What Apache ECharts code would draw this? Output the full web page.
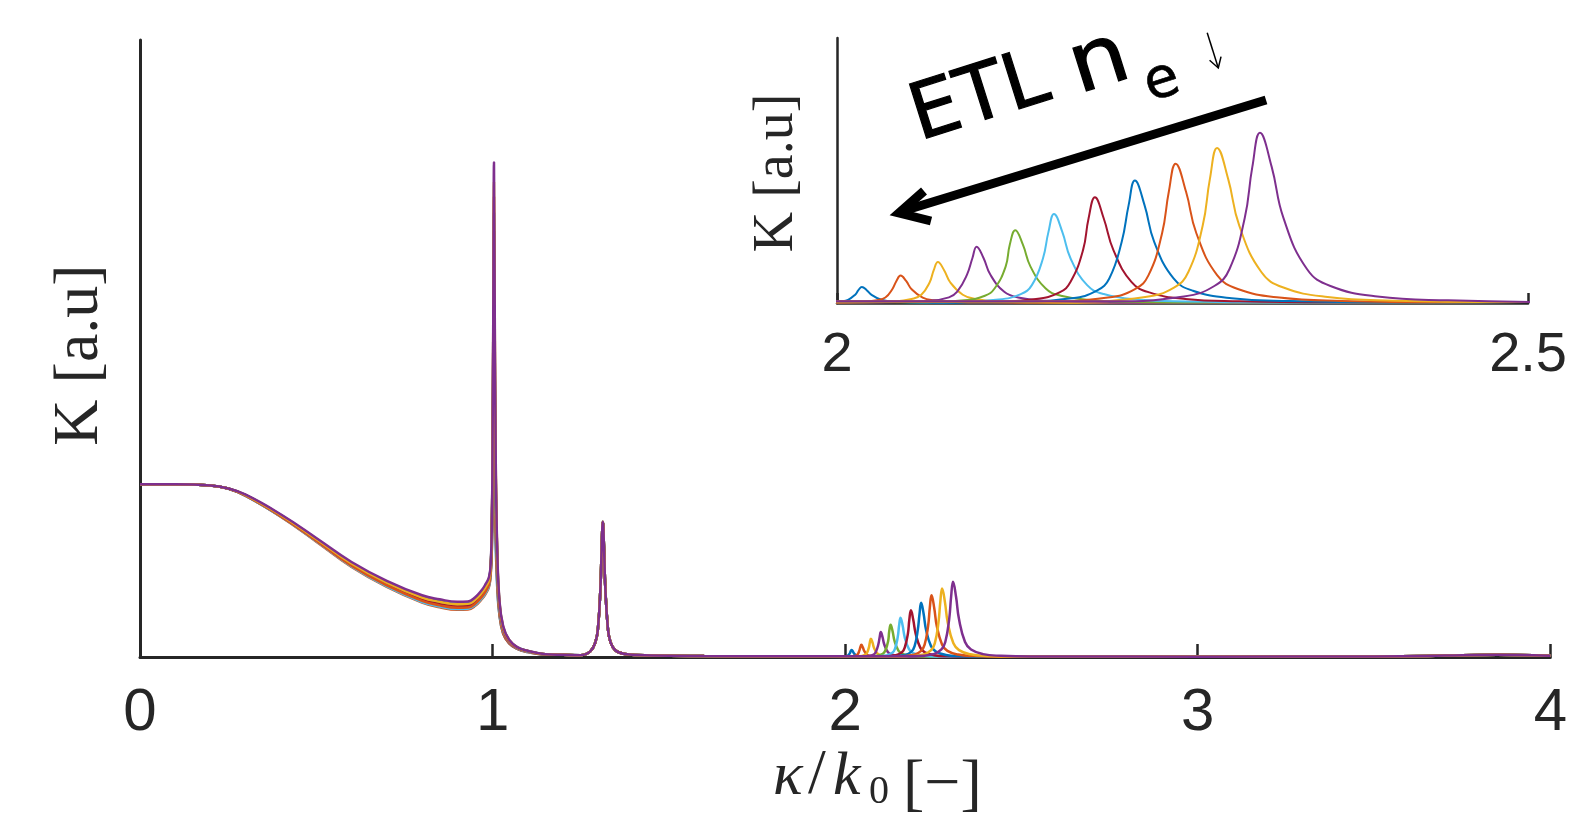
<!DOCTYPE html>
<html>
<head>
<meta charset="utf-8">
<title>K spectrum</title>
<script src="https://cdn.jsdelivr.net/npm/echarts@6/dist/echarts.min.js"></script>
<style>
  html, body { margin: 0; padding: 0; background: #fff; }
  #chart { width: 1570px; height: 818px; }
</style>
</head>
<body>
<div id="chart"></div>
<script>
// matlab default line colours, 11 runs cycle through them
const lineColors = ['#0072BD', '#D95319', '#EDB120', '#7E2F8E', '#77AC30', '#4DBEEE', '#A2142F',
                    '#0072BD', '#D95319', '#EDB120', '#7E2F8E'];

// flat start, same for every run
const plateauX = [0, 0.1, 0.2, 0.25];
const plateauK = [2.8, 2.8, 2.78, 2.73];

// decaying part before kappa = 1, runs spread slightly
const bandX = [0.3, 0.4, 0.5, 0.6, 0.7, 0.8, 0.85, 0.9, 0.93, 0.95, 0.97, 0.98];
const bandK = [
  [2.613, 2.276, 1.879, 1.472, 1.150, 0.898, 0.825, 0.785, 0.790, 0.846, 0.962, 1.044],
  [2.610, 2.270, 1.870, 1.460, 1.135, 0.880, 0.805, 0.765, 0.770, 0.825, 0.940, 1.020],
  [2.619, 2.288, 1.897, 1.496, 1.180, 0.934, 0.863, 0.823, 0.828, 0.888, 1.007, 1.092],
  [2.616, 2.282, 1.888, 1.484, 1.165, 0.916, 0.844, 0.804, 0.809, 0.867, 0.985, 1.068],
  [2.622, 2.294, 1.906, 1.508, 1.195, 0.952, 0.883, 0.843, 0.848, 0.909, 1.030, 1.116],
  [2.612, 2.274, 1.876, 1.468, 1.145, 0.892, 0.818, 0.778, 0.783, 0.839, 0.955, 1.036],
  [2.618, 2.286, 1.894, 1.492, 1.175, 0.928, 0.857, 0.817, 0.822, 0.881, 1.000, 1.084],
  [2.625, 2.300, 1.915, 1.520, 1.210, 0.970, 0.902, 0.862, 0.867, 0.930, 1.052, 1.140],
  [2.615, 2.280, 1.885, 1.480, 1.160, 0.910, 0.837, 0.797, 0.802, 0.860, 0.977, 1.060],
  [2.624, 2.298, 1.912, 1.516, 1.205, 0.964, 0.896, 0.856, 0.861, 0.923, 1.045, 1.132],
  [2.630, 2.310, 1.930, 1.540, 1.235, 1.000, 0.935, 0.895, 0.900, 0.965, 1.090, 1.180]
];

// sharp resonance at kappa = 1
const peakOneX = [0.99, 0.995, 0.998, 1.0, 1.002, 1.004, 1.006, 1.009, 1.013, 1.019, 1.03, 1.047, 1.07, 1.1, 1.15];
const peakOneK = [
  [1.16, 1.38, 1.75, 2.3, 2.8, 3.1, 2.6, 1.8, 1.15, 0.70, 0.38, 0.22, 0.13, 0.08, 0.040],
  [1.14, 1.36, 1.80, 2.6, 3.3, 3.8, 3.0, 2.0, 1.25, 0.72, 0.38, 0.22, 0.13, 0.08, 0.040],
  [1.21, 1.45, 1.95, 2.9, 3.9, 4.5, 3.5, 2.2, 1.35, 0.78, 0.41, 0.24, 0.14, 0.09, 0.042],
  [1.19, 1.43, 2.00, 3.1, 4.4, 5.3, 4.0, 2.4, 1.45, 0.80, 0.42, 0.24, 0.14, 0.09, 0.042],
  [1.24, 1.50, 2.05, 3.2, 4.7, 5.9, 4.4, 2.6, 1.55, 0.85, 0.45, 0.26, 0.15, 0.095, 0.043],
  [1.16, 1.42, 2.00, 3.2, 4.9, 6.4, 4.7, 2.7, 1.60, 0.84, 0.44, 0.25, 0.145, 0.09, 0.042],
  [1.22, 1.48, 2.10, 3.3, 5.1, 6.9, 5.0, 2.85, 1.65, 0.88, 0.46, 0.26, 0.15, 0.095, 0.043],
  [1.27, 1.52, 2.15, 3.4, 5.3, 7.2, 5.2, 2.95, 1.70, 0.92, 0.48, 0.27, 0.155, 0.098, 0.044],
  [1.18, 1.44, 2.10, 3.35, 5.3, 7.46, 5.4, 3.0, 1.70, 0.88, 0.46, 0.26, 0.15, 0.095, 0.043],
  [1.25, 1.51, 2.15, 3.45, 5.45, 7.7, 5.6, 3.1, 1.75, 0.93, 0.49, 0.275, 0.158, 0.099, 0.044],
  [1.30, 1.55, 2.20, 3.5, 5.6, 8.02, 5.8, 3.2, 1.80, 0.95, 0.50, 0.28, 0.16, 0.10, 0.045]
];

// second peak near 1.31 and the quiet stretch up to 2, shared
const midX = [1.2, 1.25, 1.277, 1.292, 1.299, 1.306, 1.3095, 1.3127, 1.316, 1.3197, 1.327, 1.334, 1.348, 1.375, 1.45, 1.6, 1.8, 1.9];
const midK = [0.035, 0.03, 0.09, 0.25, 0.47, 1.13, 1.78, 2.19, 1.78, 1.13, 0.47, 0.25, 0.11, 0.05, 0.025, 0.015, 0.012, 0.012];

// the family of peaks between 2 and 2.35, one per run
const clusterX = [
  [1.968, 1.993, 2.003, 2.008, 2.013, 2.0155, 2.018, 2.0215, 2.025, 2.032, 2.039, 2.053, 2.074, 2.109],
  [1.990, 2.018, 2.029, 2.035, 2.040, 2.043, 2.046, 2.050, 2.054, 2.062, 2.070, 2.086, 2.110, 2.150],
  [2.011, 2.042, 2.054, 2.061, 2.067, 2.070, 2.073, 2.0775, 2.082, 2.091, 2.100, 2.118, 2.145, 2.190],
  [2.033, 2.067, 2.081, 2.087, 2.094, 2.098, 2.101, 2.106, 2.111, 2.121, 2.131, 2.151, 2.181, 2.231],
  [2.055, 2.092, 2.107, 2.114, 2.122, 2.125, 2.129, 2.1345, 2.140, 2.151, 2.162, 2.184, 2.217, 2.272],
  [2.077, 2.117, 2.133, 2.141, 2.149, 2.153, 2.157, 2.163, 2.169, 2.181, 2.193, 2.217, 2.253, 2.313],
  [2.101, 2.144, 2.161, 2.169, 2.178, 2.182, 2.1866, 2.193, 2.200, 2.213, 2.226, 2.252, 2.291, 2.356],
  [2.124, 2.170, 2.188, 2.197, 2.206, 2.211, 2.2155, 2.2225, 2.2295, 2.2435, 2.2575, 2.2855, 2.3275, 2.3975],
  [2.147, 2.196, 2.2156, 2.2254, 2.2352, 2.2401, 2.245, 2.2525, 2.260, 2.275, 2.290, 2.320, 2.365, 2.440],
  [2.171, 2.223, 2.2438, 2.2542, 2.2646, 2.2698, 2.275, 2.283, 2.291, 2.307, 2.323, 2.355, 2.403, 2.483],
  [2.196, 2.251, 2.273, 2.284, 2.295, 2.3005, 2.306, 2.3145, 2.323, 2.340, 2.357, 2.391, 2.442, 2.527]
];
const clusterK = [
  [0.001, 0.004, 0.012, 0.023, 0.058, 0.092, 0.115, 0.092, 0.058, 0.023, 0.012, 0.004, 0.002, 0.001],
  [0.002, 0.008, 0.020, 0.039, 0.099, 0.158, 0.197, 0.158, 0.099, 0.039, 0.020, 0.008, 0.003, 0.001],
  [0.003, 0.011, 0.029, 0.059, 0.147, 0.235, 0.294, 0.235, 0.147, 0.059, 0.029, 0.011, 0.005, 0.002],
  [0.004, 0.016, 0.040, 0.081, 0.202, 0.323, 0.404, 0.323, 0.202, 0.081, 0.040, 0.016, 0.006, 0.002],
  [0.005, 0.020, 0.052, 0.104, 0.261, 0.418, 0.522, 0.418, 0.261, 0.104, 0.052, 0.020, 0.008, 0.003],
  [0.006, 0.025, 0.064, 0.128, 0.319, 0.510, 0.638, 0.510, 0.319, 0.128, 0.064, 0.025, 0.010, 0.004],
  [0.008, 0.029, 0.076, 0.152, 0.379, 0.606, 0.758, 0.606, 0.379, 0.152, 0.076, 0.029, 0.012, 0.005],
  [0.009, 0.034, 0.088, 0.176, 0.439, 0.702, 0.878, 0.702, 0.439, 0.176, 0.088, 0.034, 0.014, 0.005],
  [0.010, 0.039, 0.100, 0.200, 0.500, 0.799, 0.999, 0.799, 0.500, 0.200, 0.100, 0.039, 0.015, 0.006],
  [0.011, 0.043, 0.111, 0.222, 0.556, 0.890, 1.112, 0.890, 0.556, 0.222, 0.111, 0.043, 0.017, 0.007],
  [0.012, 0.047, 0.122, 0.244, 0.610, 0.976, 1.220, 0.976, 0.610, 0.244, 0.122, 0.047, 0.019, 0.007]
];

// flat tail with a faint bump near the end
const tailX = [2.6, 3.0, 3.5, 3.65, 3.75, 3.85, 3.95, 4.0];
const tailK = [0.008, 0.006, 0.008, 0.015, 0.03, 0.035, 0.03, 0.02];

const mainTicks = [0, 1, 2, 3, 4];
const insetTicks = [2, 2.5];

function runData(i) {
  const xs = [].concat(plateauX, bandX, peakOneX, midX, clusterX[i], tailX);
  const ys = [].concat(plateauK, bandK[i], peakOneK[i], midK, clusterK[i], tailK);
  return xs.map((x, j) => [x, ys[j]]);
}

const axisColor = '#262626';
const serif = 'Liberation Serif';
const sans = 'Liberation Sans';
const annoFont = '"DejaVu Sans"';

const series = [];
for (let g = 0; g < 2; g++) {
  for (let i = 0; i < lineColors.length; i++) {
    series.push({
      type: 'line',
      xAxisIndex: g,
      yAxisIndex: g,
      data: runData(i),
      symbol: 'none',
      smooth: 0.45,
      clip: true,
      color: lineColors[i],
      lineStyle: { width: g === 0 ? 2.5 : 2, color: lineColors[i] },
      z: 2
    });
  }
}

const chart = echarts.init(document.getElementById('chart'));
chart.setOption({
  animation: false,
  backgroundColor: '#fff',
  grid: [
    { left: 140, right: 10, top: 40, bottom: 161 },
    { left: 837, right: 23, top: 38, bottom: 515 }
  ],
  xAxis: [
    {
      type: 'value', gridIndex: 0,
      min: mainTicks[0], max: mainTicks[mainTicks.length - 1], interval: 1,
      axisLine: { show: true, onZero: false, lineStyle: { color: axisColor, width: 3 } },
      axisTick: { show: true, inside: true, length: 13, lineStyle: { color: axisColor, width: 2.5 } },
      axisLabel: { fontSize: 60, fontFamily: sans, color: axisColor, margin: 26 },
      splitLine: { show: false }
    },
    {
      type: 'value', gridIndex: 1,
      min: insetTicks[0], max: insetTicks[1], interval: 0.5,
      axisLine: { show: true, onZero: false, lineStyle: { color: axisColor, width: 2.5 } },
      axisTick: { show: true, inside: true, length: 10, lineStyle: { color: axisColor, width: 2.5 } },
      axisLabel: { fontSize: 56, fontFamily: sans, color: axisColor, margin: 25 },
      splitLine: { show: false }
    }
  ],
  yAxis: [
    {
      type: 'value', gridIndex: 0, min: 0, max: 10,
      axisLine: { show: true, lineStyle: { color: axisColor, width: 3 } },
      axisTick: { show: false }, axisLabel: { show: false }, splitLine: { show: false }
    },
    {
      type: 'value', gridIndex: 1, min: 0, max: 1.9,
      axisLine: { show: true, lineStyle: { color: axisColor, width: 2.5 } },
      axisTick: { show: false }, axisLabel: { show: false }, splitLine: { show: false }
    }
  ],
  series: series,
  graphic: [
    // main y label
    {
      type: 'text', x: 80, y: 355, rotation: Math.PI / 2,
      style: { text: 'K [a.u]', font: '64px ' + serif, fill: axisColor, align: 'center', verticalAlign: 'middle' }
    },
    // inset y label
    {
      type: 'text', x: 777, y: 173, rotation: Math.PI / 2,
      style: { text: 'K [a.u]', font: '56px ' + serif, fill: axisColor, align: 'center', verticalAlign: 'middle' }
    },
    // x label  kappa / k_0 [-]
    {
      type: 'group', x: 773, y: 798,
      children: [
        { type: 'text', x: 0, y: -20, style: { text: 'κ', font: 'italic 62px ' + serif, fill: axisColor, align: 'left', verticalAlign: 'middle' } },
        { type: 'text', x: 35, y: -22, style: { text: '/', font: '64px ' + serif, fill: axisColor, align: 'left', verticalAlign: 'middle' } },
        { type: 'text', x: 60, y: -20, style: { text: 'k', font: 'italic 62px ' + serif, fill: axisColor, align: 'left', verticalAlign: 'middle' } },
        { type: 'text', x: 96, y: -6, style: { text: '0', font: '40px ' + serif, fill: axisColor, align: 'left', verticalAlign: 'middle' } },
        { type: 'text', x: 130, y: -12, style: { text: '[−]', font: '64px ' + serif, fill: axisColor, align: 'left', verticalAlign: 'middle' } }
      ]
    },
    // annotation text, tilted
    {
      type: 'group', x: 927, y: 145, rotation: 0.305,
      children: [
        { type: 'text', x: -6, y: -27, style: { text: 'ETL', font: '78px ' + annoFont, fill: '#000', stroke: '#000', lineWidth: 1.2, align: 'left', verticalAlign: 'middle' } },
        { type: 'text', x: 160, y: -25, scaleX: 1.12, style: { text: 'n', font: '82px ' + annoFont, fill: '#000', stroke: '#000', lineWidth: 1.2, align: 'left', verticalAlign: 'middle' } },
        { type: 'text', x: 243, y: 11, style: { text: 'e', font: '56px ' + annoFont, fill: '#000', stroke: '#000', lineWidth: 0.6, align: 'center', verticalAlign: 'middle' } },
        { type: 'polyline', shape: { points: [[301, -23], [301, 14]] }, style: { stroke: '#000', lineWidth: 1.5, fill: null } },
        { type: 'polyline', shape: { points: [[295, 4], [301, 14], [307, 4]] }, style: { stroke: '#000', lineWidth: 1.5, fill: null } }
      ]
    },
    // big arrow
    {
      type: 'polyline', shape: { points: [[1266, 100], [903, 211]] },
      style: { stroke: '#000', lineWidth: 9, fill: null }
    },
    {
      type: 'polyline', shape: { points: [[924, 191], [899, 213], [931, 221]] },
      style: { stroke: '#000', lineWidth: 9, fill: null, lineJoin: 'miter' }
    }
  ]
});
</script>
</body>
</html>
